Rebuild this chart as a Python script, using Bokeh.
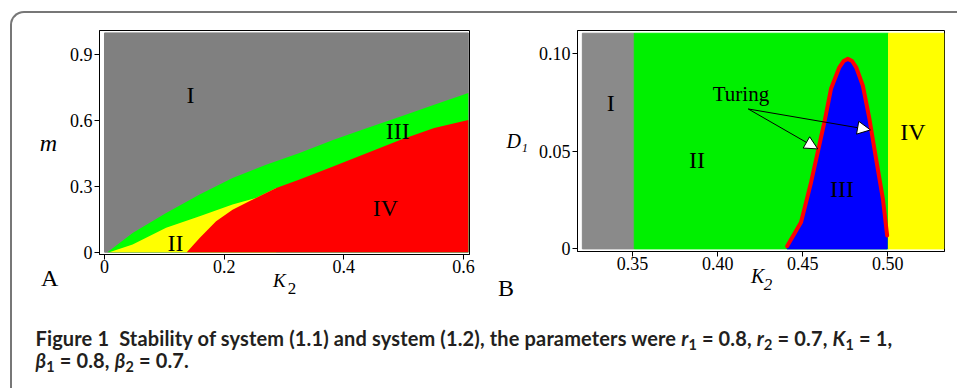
from bokeh.plotting import figure
from bokeh.models import FixedTicker, Arrow, NormalHead, Div
from bokeh.layouts import column, row
from bokeh.core.properties import value
from bokeh.embed import file_html
from bokeh.resources import INLINE

# ---------------- Panel A data ----------------
a_xticks = [0, 0.2, 0.4, 0.6]
a_xtick_labels = ["0", "0.2", "0.4", "0.6"]
a_yticks = [0, 0.3, 0.6, 0.9]
a_ytick_labels = ["0", "0.3", "0.6", "0.9"]
a_ylabel = "m"
a_k_max = 0.608
a_m_max = 1.0
# boundary gray(I) / green(III)
upper_k = [0.005, 0.047, 0.103, 0.159, 0.214, 0.270, 0.326, 0.383, 0.439, 0.495, 0.551, 0.608]
upper_m = [0.0, 0.088, 0.179, 0.263, 0.338, 0.399, 0.452, 0.513, 0.566, 0.619, 0.672, 0.726]
# boundary green(III) / yellow(II)
yellow_k = [0.008, 0.047, 0.103, 0.159, 0.214, 0.253, 0.287]
yellow_m = [0.0, 0.035, 0.111, 0.164, 0.217, 0.247, 0.293]
# boundary of red(IV)
red_k = [0.1375, 0.159, 0.1865, 0.214, 0.242, 0.253, 0.287, 0.326, 0.383, 0.439, 0.495, 0.551, 0.608]
red_m = [0.0, 0.065, 0.141, 0.194, 0.232, 0.247, 0.293, 0.331, 0.392, 0.452, 0.513, 0.566, 0.603]
region_a_names = ["I", "II", "III", "IV"]
region_a_k = [0.1436, 0.1186, 0.4902, 0.4693]
region_a_m = [0.680, 0.0077, 0.518, 0.164]

# ---------------- Panel B data ----------------
b_xticks = [0.35, 0.40, 0.45, 0.50]
b_xtick_labels = ["0.35", "0.40", "0.45", "0.50"]
b_yticks = [0, 0.05, 0.10]
b_ytick_labels = ["0", "0.05", "0.10"]
b_ylabel = "D\u2081"
b_band_left = [0.3205, 0.351, 0.5004]
b_band_right = [0.351, 0.5004, 0.533]
b_band_colors = ["#8a8a8a", "#00f000", "#ffff00"]
b_d_max = 0.1102
turing_k = [0.4408, 0.449, 0.4549, 0.4588, 0.4627, 0.4666, 0.4715, 0.4740, 0.4765, 0.4790,
            0.4814, 0.4853, 0.4892, 0.4931, 0.4971, 0.4996]
turing_d = [0.0014, 0.0136, 0.0341, 0.0494, 0.0647, 0.0818, 0.0928, 0.0960, 0.0971, 0.0960,
            0.0928, 0.0835, 0.0664, 0.0460, 0.0256, 0.0069]
region_b_names = ["I", "II", "III", "IV"]
region_b_k = [0.3372, 0.3879, 0.4730, 0.5147]
region_b_d = [0.0707, 0.0414, 0.0264, 0.0554]
turing_text = "Turing"
turing_text_k = 0.3971
turing_text_d = 0.0755
arrow_from_k = 0.418
arrow_from_d = 0.0715
arrow_tip_k = [0.4588, 0.4898]
arrow_tip_d = [0.0511, 0.0608]

panel_letters = ["A", "B"]
x_label_main = "K"
x_label_sub = "2"

SERIF = "Liberation Serif"


def style(p, xticks, xlabels, yticks, ylabels, ylab, ystand, ysize):
    p.grid.visible = False
    p.xaxis.ticker = FixedTicker(ticks=xticks)
    p.yaxis.ticker = FixedTicker(ticks=yticks)
    p.xaxis.major_label_overrides = {t: l for t, l in zip(xticks, xlabels)}
    p.yaxis.major_label_overrides = {t: l for t, l in zip(yticks, ylabels)}
    p.yaxis.axis_label = ylab
    p.yaxis.axis_label_orientation = "horizontal"
    p.yaxis.axis_label_standoff = ystand
    p.yaxis.axis_label_text_font_size = ysize
    p.xaxis.major_label_standoff = 0
    p.yaxis.major_label_standoff = 2
    for ax in (p.xaxis[0], p.yaxis[0]):
        ax.major_label_text_font = SERIF
        ax.major_label_text_font_size = "18px"
        ax.major_label_text_color = "black"
        ax.axis_label_text_font = SERIF
        ax.axis_label_text_font_style = "italic"
        ax.axis_label_text_color = "black"
        ax.axis_line_color = "black"
        ax.axis_line_width = 1
        ax.major_tick_line_color = "black"
        ax.major_tick_in = 0
        ax.major_tick_out = 5
        ax.minor_tick_line_color = None
    p.outline_line_color = "black"
    p.outline_line_width = 1
    p.border_fill_color = None
    p.background_fill_color = "white"


# ---------------- Panel A ----------------
pA = figure(frame_width=370, frame_height=224, x_range=(-0.00835, 0.61), y_range=(-0.0105, 1.011),
            output_backend="svg", toolbar_location=None,
            min_border_left=87, min_border_right=21, min_border_top=17, min_border_bottom=59)
style(pA, a_xticks, a_xtick_labels, a_yticks, a_ytick_labels, a_ylabel, 10, "24px")
pA.quad(left=[0], right=[a_k_max], bottom=[0], top=[a_m_max], color="#808080")
pA.varea(x=upper_k, y1=[0] * len(upper_k), y2=upper_m, color="#00ff00")
pA.varea(x=yellow_k, y1=[0] * len(yellow_k), y2=yellow_m, color="#ffff00")
pA.varea(x=red_k, y1=[0] * len(red_k), y2=red_m, color="#ff0000")
pA.text(x=region_a_k, y=region_a_m, text=region_a_names, text_font=value(SERIF),
        text_font_size="24px", text_align="center", text_baseline="alphabetic",
        y_offset=-8, text_color="black")

# ---------------- Panel B ----------------
pB = figure(frame_width=367, frame_height=221, x_range=(0.31765, 0.5333), y_range=(-0.00133, 0.1116),
            output_backend="svg", toolbar_location=None,
            min_border_left=87, min_border_right=13, min_border_top=15, min_border_bottom=60)
style(pB, b_xticks, b_xtick_labels, b_yticks, b_ytick_labels, b_ylabel, 8, "20px")
pB.quad(left=b_band_left, right=b_band_right, bottom=[0] * 3, top=[b_d_max] * 3,
        color=b_band_colors)
patch_k = turing_k + [turing_k[-1], turing_k[0]]
patch_d = turing_d + [0, 0]
pB.patch(x=patch_k, y=patch_d, color="#0000ff")
pB.line(x=turing_k, y=turing_d, line_color="#ff0000", line_width=4, line_join="round",
        line_cap="round")
pB.text(x=region_b_k, y=region_b_d, text=region_b_names, text_font=value(SERIF),
        text_font_size="24px", text_align="center", text_baseline="alphabetic",
        y_offset=-8, text_color="black")
pB.text(x=[turing_text_k], y=[turing_text_d], text=[turing_text], text_font=value(SERIF),
        text_font_size="21px", text_align="left", text_baseline="alphabetic",
        y_offset=-7, text_color="black")
for tk, td in zip(arrow_tip_k, arrow_tip_d):
    pB.add_layout(Arrow(end=NormalHead(size=13, fill_color="white", line_color="black",
                                       line_width=1),
                        x_start=arrow_from_k, y_start=arrow_from_d, x_end=tk, y_end=td,
                        line_color="black", line_width=1))

# ---------------- x-axis titles, panel letters, caption (HTML overlay) ----------------
def abs_span(left, top, size, style_, txt):
    return ('<span style="position:absolute;left:%.1fpx;top:%.1fpx;font-family:\'Liberation Serif\',serif;'
            'font-size:%dpx;line-height:%dpx;font-style:%s;color:black;white-space:nowrap;">%s</span>'
            % (left, top, size, size, style_, txt))


sub = '<sub style="font-size:0.72em;vertical-align:-0.28em;line-height:0">'
caption_line1 = ('Figure 1&nbsp;&nbsp;Stability of system (1.1) and system (1.2), the parameters were '
                 '<i>r</i>' + sub + '1</sub> = 0.8, <i>r</i>' + sub + '2</sub> = 0.7, <i>K</i>'
                 + sub + '1</sub> = 1,')
caption_line2 = ('<i>&beta;</i>' + sub + '1</sub> = 0.8, <i>&beta;</i>' + sub + '2</sub> = 0.7.')
html = (
    '<div style="position:relative;width:945px;height:124px;">'
    + abs_span(24, 2, 24, "normal", panel_letters[0])
    + abs_span(481, 12, 24, "normal", panel_letters[1])
    + abs_span(256, 7, 19, "italic", x_label_main)
    + abs_span(270.7, 16.3, 17, "normal", x_label_sub)
    + abs_span(734, 1.5, 20, "italic", x_label_main)
    + abs_span(746.7, 12, 17, "italic", x_label_sub)
    + '<div style="position:absolute;left:18.5px;top:63px;font-family:Lato,\'Open Sans\',sans-serif;'
    'font-weight:bold;font-size:20px;line-height:22px;letter-spacing:0.14px;color:#231f20;'
    'white-space:nowrap;">'
    + caption_line1 + '<br>' + caption_line2 + '</div></div>'
)
cap = Div(text=html, width=945, height=124, styles={"margin-top": "-49px"})

layout = column(row(pA, pB), cap,
                styles={"margin-left": "10px", "margin-top": "11px",
                        "border-left": "2px solid #777777", "border-top": "2px solid #777777",
                        "border-top-left-radius": "14px"})

open("out.html", "w").write(file_html(layout, INLINE))
